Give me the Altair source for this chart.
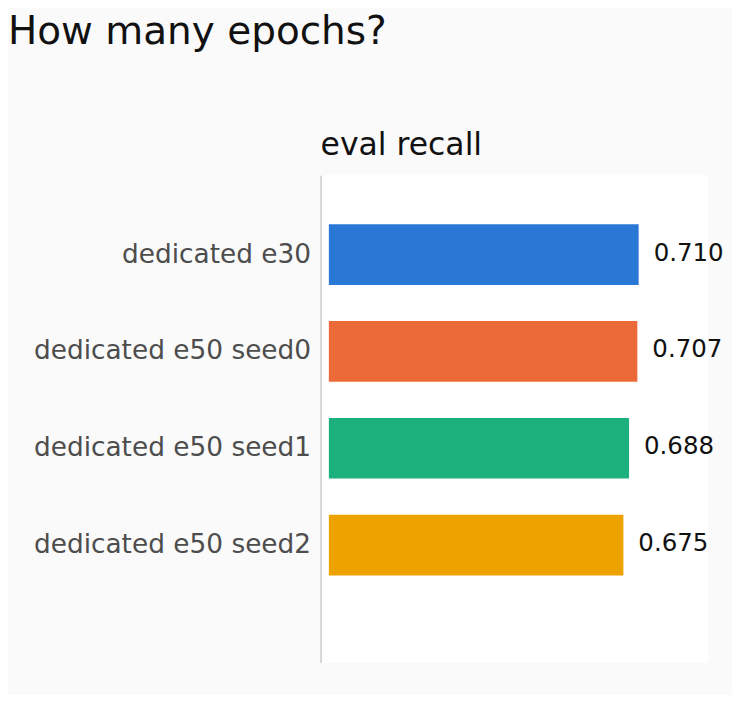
import altair as alt
import pandas as pd

names = ["dedicated e30", "dedicated e50 seed0", "dedicated e50 seed1", "dedicated e50 seed2"]
values = [0.710, 0.707, 0.688, 0.675]
colors = ["#2a78d6", "#ec6a37", "#1bb07c", "#eda200"]

df = pd.DataFrame({"name": names, "value": values})

yenc = alt.Y(
    "name:N",
    sort=names,
    scale=alt.Scale(paddingInner=0.374, paddingOuter=0.7025, align=0.36),
    axis=alt.Axis(
        title=None,
        ticks=False,
        labelFontSize=26.4,
        labelColor="#4d4d4d",
        labelFont="DejaVu Sans",
        labelPadding=10,
        labelLimit=400,
        domainColor="#cccccc",
        domainWidth=1.5,
        minExtent=313,
        maxExtent=313,
    ),
)
xscale = alt.Scale(domain=[-0.019, 0.869], nice=False, zero=False)

base = alt.Chart(df).encode(y=yenc)

bars = base.mark_bar().encode(
    x=alt.X("value:Q", scale=xscale, axis=None),
    x2=alt.datum(0),
    color=alt.Color("name:N", scale=alt.Scale(domain=names, range=colors), legend=None),
)

text = base.mark_text(align="left", baseline="middle", dx=15, dy=-1, fontSize=24.5,
                      font="DejaVu Sans", color="#111111").encode(
    x=alt.X("value:Q", scale=xscale, axis=None),
    text=alt.Text("value:Q", format=".3f"),
)

inner = alt.layer(bars, text).properties(
    width=388,
    height=488,
    title=alt.TitleParams("eval recall", anchor="start", frame="group", fontSize=31.5,
                          fontWeight="normal", font="DejaVu Sans", color="#111111", offset=14),
)

chart = alt.vconcat(inner).properties(
    title=alt.TitleParams("How many epochs?", anchor="start", frame="bounds", fontSize=39,
                          fontWeight="normal", font="DejaVu Sans", color="#111111", offset=78),
    background="#fafafa",
    padding={"left": 0, "top": 4, "right": 8, "bottom": 32},
).configure_view(fill="white", stroke=None)

chart.save("out.html", embed_options={"renderer": "svg", "actions": False})
